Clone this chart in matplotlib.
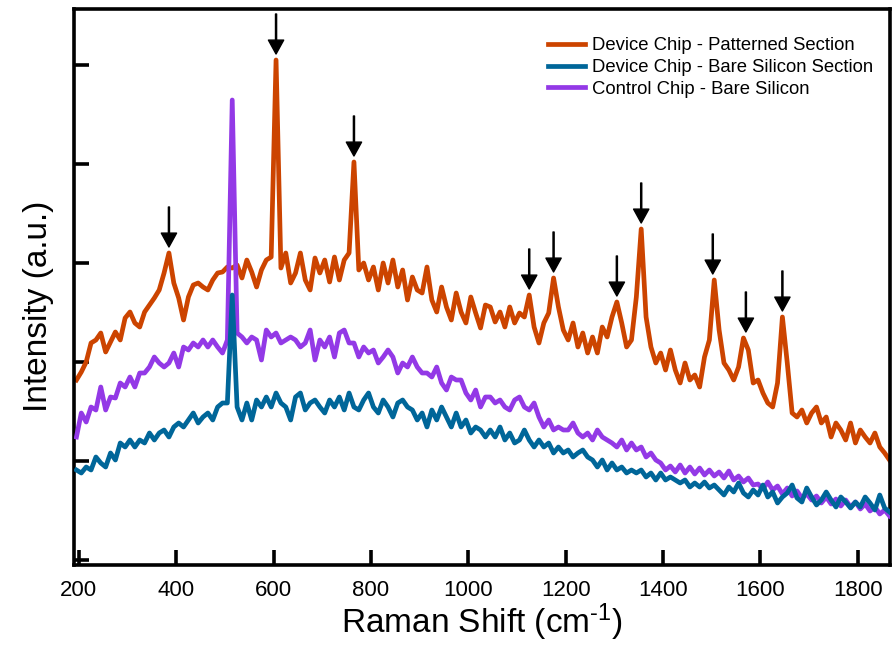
import numpy as np
import matplotlib
matplotlib.use('Agg')
import matplotlib.pyplot as plt

plt.rcParams['font.family'] = ['Liberation Sans', 'DejaVu Sans']
plt.rcParams['mathtext.fontset'] = 'custom'
plt.rcParams['mathtext.rm'] = 'Liberation Sans'
plt.rcParams['mathtext.default'] = 'regular'

# Raman shift grid (cm-1), one reading every 10 cm-1
shift = np.arange(195, 1866, 10)

# Device chip - patterned section (a.u.)
patterned = [
    180, 188, 198, 217, 220, 227, 208, 218, 228, 220,
    242, 248, 237, 233, 248, 255, 262, 270, 287, 307,
    277, 262, 240, 263, 275, 277, 273, 270, 280, 287,
    288, 293, 292, 295, 282, 300, 288, 273, 290, 300,
    303, 500, 292, 307, 277, 287, 307, 280, 270, 302,
    287, 300, 278, 303, 280, 300, 307, 398, 290, 297,
    280, 293, 270, 297, 277, 300, 273, 290, 260, 283,
    270, 267, 293, 260, 248, 273, 253, 240, 267, 248,
    237, 263, 247, 232, 255, 253, 238, 248, 233, 253,
    237, 247, 243, 265, 233, 217, 237, 247, 282, 253,
    230, 220, 237, 213, 227, 207, 223, 207, 233, 223,
    243, 258, 237, 213, 220, 263, 331, 243, 213, 197,
    207, 190, 210, 190, 177, 197, 180, 185, 173, 203,
    220, 280, 230, 197, 190, 180, 193, 222, 210, 177,
    180, 167, 157, 153, 177, 243, 197, 147, 143, 150,
    137, 147, 153, 137, 143, 123, 137, 130, 120, 137,
    117, 130, 123, 117, 127, 113, 107, 100,
]

# Device chip - bare silicon section
bare_device = [
    90, 87, 93, 90, 103, 97, 93, 107, 100, 117,
    113, 120, 113, 120, 117, 127, 120, 127, 130, 123,
    133, 137, 133, 140, 147, 137, 143, 147, 140, 153,
    157, 157, 265, 153, 140, 157, 140, 160, 153, 163,
    153, 167, 157, 153, 140, 163, 167, 150, 157, 160,
    153, 147, 160, 153, 163, 150, 167, 153, 150, 160,
    167, 153, 147, 160, 153, 143, 157, 160, 153, 150,
    140, 147, 133, 150, 140, 153, 143, 133, 147, 133,
    140, 127, 133, 130, 123, 130, 123, 133, 120, 127,
    117, 120, 130, 120, 113, 120, 113, 117, 107, 113,
    107, 110, 103, 107, 110, 103, 100, 93, 100, 90,
    97, 90, 93, 87, 90, 87, 90, 83, 87, 80,
    87, 80, 83, 80, 77, 80, 73, 77, 73, 78,
    72, 75, 70, 65, 73, 68, 77, 67, 63, 70,
    65, 75, 63, 68, 57, 63, 67, 75, 62, 58,
    72, 63, 55, 60, 68, 60, 53, 63, 58, 52,
    58, 53, 63, 57, 50, 65, 52, 48,
]

# Control chip - bare silicon
control = [
    123, 147, 138, 153, 150, 173, 150, 163, 162, 177,
    173, 183, 173, 187, 187, 193, 203, 197, 193, 197,
    207, 193, 213, 210, 217, 213, 220, 213, 220, 213,
    207, 220, 460, 227, 223, 217, 223, 220, 200, 230,
    223, 227, 217, 220, 223, 220, 213, 217, 230, 200,
    220, 213, 223, 203, 227, 230, 217, 217, 203, 213,
    207, 210, 197, 203, 210, 203, 187, 197, 193, 203,
    193, 187, 187, 183, 193, 177, 170, 183, 180, 180,
    167, 160, 170, 153, 163, 163, 157, 160, 153, 150,
    160, 163, 153, 150, 157, 143, 133, 140, 130, 133,
    130, 130, 137, 127, 123, 127, 120, 130, 123, 120,
    117, 113, 120, 110, 117, 110, 113, 103, 107, 100,
    97, 90, 94, 88, 95, 87, 93, 86, 92, 85,
    90, 84, 88, 82, 89, 80, 84, 78, 82, 75,
    76, 71, 78, 70, 74, 66, 72, 64, 69, 62,
    66, 60, 64, 57, 63, 56, 61, 54, 60, 53,
    58, 51, 56, 49, 53, 46, 50, 44,
]

# peaks marked with arrows on the patterned spectrum
peak_marks = [385, 605, 765, 1125, 1175, 1305, 1355, 1502, 1570, 1645]

labels = ['Device Chip - Patterned Section',
          'Device Chip - Bare Silicon Section',
          'Control Chip - Bare Silicon']
colors = ['#CC4400', '#006699', '#9339E6']

fig = plt.figure(figsize=(8.93, 6.49), dpi=100)
ax = fig.add_axes([74 / 893, 1 - 565 / 649, 816 / 893, 556 / 649])

l1, = ax.plot(shift, patterned, color=colors[0], lw=3.4, zorder=2)
l3, = ax.plot(shift, control, color=colors[2], lw=3.4, zorder=3)
l2, = ax.plot(shift, bare_device, color=colors[1], lw=3.4, zorder=4)

# arrows above the peaks
pat = np.array(patterned)
for p in peak_marks:
    near = np.abs(shift - p) <= 10
    top = pat[near].max() + 6
    ax.annotate('', xy=(p, top), xytext=(0, 40), textcoords='offset pixels',
                arrowprops=dict(facecolor='black', edgecolor='black',
                                width=0.8, headwidth=11, headlength=10, shrink=0))

ax.set_xlim(190, 1866)
ax.set_ylim(-5, 551)
ax.set_xticks(np.arange(200, 1801, 200))
ax.set_yticks([0, 99, 198, 297, 396, 495])
ax.tick_params(direction='in', length=11, width=2.6, labelsize=16, pad=10.5)
ax.tick_params(axis='y', labelleft=False)
for s in ax.spines.values():
    s.set_linewidth(2.6)

ax.set_xlabel('Raman Shift (cm$^{\\text{-1}}$)', fontsize=24, labelpad=1)
ax.set_ylabel('Intensity (a.u.)', fontsize=24)
ax.yaxis.set_label_coords(-0.025, 0.466)

ax.legend([l1, l2, l3], labels, loc='upper left', bbox_to_anchor=(0.581, 0.949),
          frameon=False, fontsize=13.3, handlelength=2.0, handletextpad=0.36,
          labelspacing=0.25, borderpad=0, borderaxespad=0)

fig.savefig('out.png', dpi=100)
